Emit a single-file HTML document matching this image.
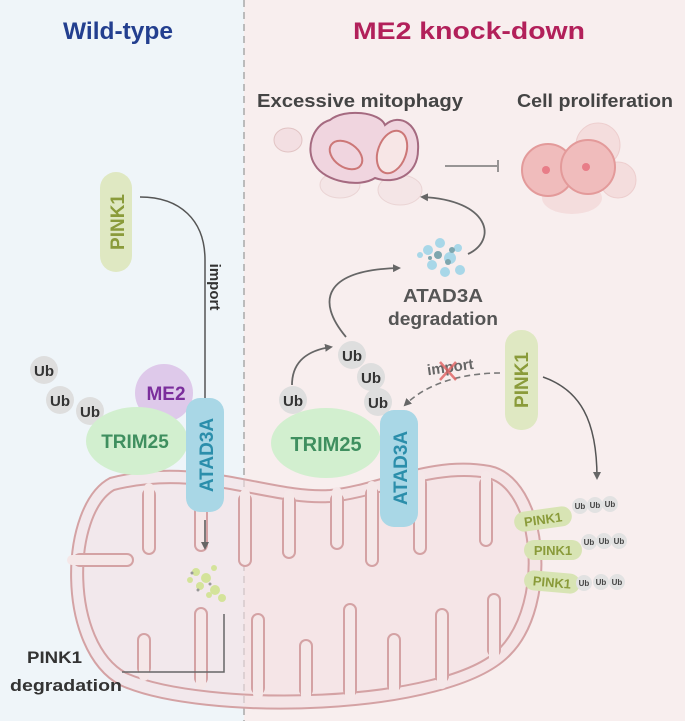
<!DOCTYPE html>
<html><head><meta charset="utf-8"><style>
html,body{margin:0;padding:0;width:685px;height:721px;overflow:hidden;background:#fff}
svg{display:block;font-family:"Liberation Sans",Arial,sans-serif}
</style></head><body>
<svg width="685" height="721" viewBox="0 0 685 721" xmlns="http://www.w3.org/2000/svg">
<defs>
<marker id="ah" markerWidth="8" markerHeight="8" refX="6" refY="4" orient="auto" markerUnits="userSpaceOnUse"><path d="M0,0 L8,4 L0,8 Z" fill="#666"/></marker>
</defs>
<rect x="0" y="0" width="244" height="721" fill="#eff5f9"/>
<rect x="244" y="0" width="441" height="721" fill="#f8eeee"/>
<line x1="244" y1="0" x2="244" y2="721" stroke="#a9a9a9" stroke-width="1.5" stroke-dasharray="7,5"/>
<text x="63" y="39" font-size="24" font-weight="bold" fill="#233f8f" textLength="110" lengthAdjust="spacingAndGlyphs">Wild-type</text>
<text x="353" y="39" font-size="24" font-weight="bold" fill="#b2205a" textLength="232" lengthAdjust="spacingAndGlyphs">ME2 knock-down</text>

<!-- top right -->
<text x="257" y="107" font-size="18" font-weight="bold" fill="#444" textLength="206" lengthAdjust="spacingAndGlyphs">Excessive mitophagy</text>
<text x="517" y="107" font-size="18" font-weight="bold" fill="#444" textLength="156" lengthAdjust="spacingAndGlyphs">Cell proliferation</text>
<g opacity="0.5"><ellipse cx="288" cy="140" rx="14" ry="12" fill="#efd2d8" stroke="#c99" /><ellipse cx="340" cy="185" rx="20" ry="13" fill="#f2dde0" stroke="#dbb"/><ellipse cx="400" cy="190" rx="22" ry="15" fill="#f2dde0" stroke="#dbb"/></g>
<path d="M330,120 C345,108 380,112 385,125 C400,112 420,125 418,150 C418,175 395,185 375,178 C360,188 325,182 315,165 C305,150 312,125 330,120 Z" fill="#f0d5df" stroke="#a56a80" stroke-width="2"/>
<ellipse cx="346" cy="155" rx="18" ry="12" fill="none" stroke="#c77" stroke-width="2" transform="rotate(35 346 155)"/>
<ellipse cx="392" cy="152" rx="14" ry="22" fill="#f7e6e6" stroke="#c77" stroke-width="2" transform="rotate(20 392 152)"/>
<line x1="445" y1="166" x2="497" y2="166" stroke="#777" stroke-width="1.5"/><line x1="498" y1="160" x2="498" y2="172" stroke="#777" stroke-width="1.5"/>
<g opacity="0.45"><circle cx="598" cy="145" r="22" fill="#f0c9c9" stroke="#e0a8a8"/><circle cx="618" cy="180" r="18" fill="#f0c9c9" stroke="#e0a8a8"/><ellipse cx="572" cy="198" rx="30" ry="16" fill="#f0c9c9"/></g>
<circle cx="548" cy="170" r="26" fill="#f0bcbc" stroke="#e39a9a" stroke-width="2"/>
<circle cx="588" cy="167" r="27" fill="#f0bcbc" stroke="#e39a9a" stroke-width="2"/>
<circle cx="546" cy="170" r="4" fill="#e87d88"/><circle cx="586" cy="167" r="4" fill="#e87d88"/>

<!-- ATAD3A degradation -->
<g fill="#a8d7e8"><circle cx="428" cy="250" r="5"/><circle cx="440" cy="243" r="5"/><circle cx="450" cy="258" r="6"/><circle cx="432" cy="265" r="5"/><circle cx="445" cy="272" r="5"/><circle cx="420" cy="255" r="3"/><circle cx="458" cy="248" r="4"/><circle cx="460" cy="270" r="5"/></g>
<g fill="#7ea6ae"><circle cx="438" cy="255" r="4"/><circle cx="448" cy="262" r="3"/><circle cx="430" cy="258" r="2"/><circle cx="452" cy="250" r="3"/></g>
<text x="443" y="302" text-anchor="middle" font-size="18" font-weight="bold" fill="#555" textLength="80" lengthAdjust="spacingAndGlyphs">ATAD3A</text>
<text x="443" y="325" text-anchor="middle" font-size="18" font-weight="bold" fill="#555" textLength="110" lengthAdjust="spacingAndGlyphs">degradation</text>
<path d="M468,254 C498,240 490,200 422,197" fill="none" stroke="#666" stroke-width="1.8" marker-end="url(#ah)"/>
<path d="M346,337 C315,300 325,270 399,268" fill="none" stroke="#666" stroke-width="1.8" marker-end="url(#ah)"/>
<path d="M292,385 C292,360 310,350 331,347" fill="none" stroke="#666" stroke-width="1.8" marker-end="url(#ah)"/>

<!-- Mitochondrion -->
<path d="M110,478 C58,505 55,650 120,685 C200,722 450,718 510,655 C560,605 548,478 490,466 C430,455 380,485 330,490 C270,494 200,455 110,478 Z" fill="#f3e0e2" fill-opacity="0.6" stroke="#d4a2a4" stroke-width="2"/>
<path d="M114,490 C72,515 70,642 126,673 C205,708 445,704 500,648 C545,600 534,490 488,478 C432,468 382,497 330,502 C268,506 200,468 114,490 Z" fill="none" stroke="#d4a2a4" stroke-width="2"/>
<g stroke-linecap="round">
<g stroke="#d4a2a4" stroke-width="14">
<path d="M149,495 V548"/><path d="M201,500 V545"/><path d="M245,500 V560"/><path d="M289,502 V552"/><path d="M337,500 V543"/><path d="M372,494 V560"/><path d="M420,484 V548"/><path d="M486,484 V540"/>
<path d="M144,668 V640"/><path d="M201,678 V614"/><path d="M258,688 V620"/><path d="M306,690 V646"/><path d="M350,690 V610"/><path d="M394,685 V640"/><path d="M442,676 V615"/><path d="M494,650 V600"/><path d="M80,560 H127"/>
</g>
<g stroke="#f5e7e8" stroke-width="10">
<path d="M149,488 V548"/><path d="M201,490 V545"/><path d="M245,494 V560"/><path d="M289,495 V552"/><path d="M337,492 V543"/><path d="M372,486 V560"/><path d="M420,476 V548"/><path d="M486,476 V540"/>
<path d="M144,676 V640"/><path d="M201,684 V614"/><path d="M258,694 V620"/><path d="M306,696 V646"/><path d="M350,696 V610"/><path d="M394,692 V640"/><path d="M442,684 V615"/><path d="M494,658 V600"/><path d="M72,560 H127"/>
</g></g>

<!-- Left side -->
<rect x="100" y="172" width="32" height="100" rx="16" fill="#dfe8c2"/>
<text transform="translate(124 222) rotate(-90)" text-anchor="middle" font-size="19" font-weight="bold" fill="#8a9b3a">PINK1</text>
<path d="M140,197 C180,197 205,220 205,260 L205,400" fill="none" stroke="#555" stroke-width="1.5"/>
<text transform="translate(210 287) rotate(90)" text-anchor="middle" font-size="15" font-weight="bold" fill="#333">import</text>
<circle cx="44" cy="370" r="14" fill="#dedede"/><text x="44" y="376" text-anchor="middle" font-size="15" font-weight="bold" fill="#333">Ub</text>
<circle cx="60" cy="400" r="14" fill="#dedede"/><text x="60" y="406" text-anchor="middle" font-size="15" font-weight="bold" fill="#333">Ub</text>
<circle cx="90" cy="411" r="14" fill="#dedede"/><text x="90" y="417" text-anchor="middle" font-size="15" font-weight="bold" fill="#333">Ub</text>
<circle cx="164" cy="393" r="29" fill="#dec9ea"/><text x="166" y="400" text-anchor="middle" font-size="19" font-weight="bold" fill="#7b2e9c">ME2</text>
<ellipse cx="137" cy="441" rx="51" ry="34" fill="#d2efcf"/><text x="135" y="448" text-anchor="middle" font-size="19" font-weight="bold" fill="#3f8f5f">TRIM25</text>
<rect x="186" y="398" width="38" height="114" rx="14" fill="#a9d7e6"/>
<text transform="translate(213 455) rotate(-90)" text-anchor="middle" font-size="19" font-weight="bold" fill="#2b8eab">ATAD3A</text>
<line x1="205" y1="520" x2="205" y2="548" stroke="#555" stroke-width="1.5" marker-end="url(#ah)"/>
<g fill="#d4e39a"><circle cx="196" cy="572" r="4"/><circle cx="206" cy="578" r="5"/><circle cx="214" cy="568" r="3"/><circle cx="200" cy="586" r="4"/><circle cx="215" cy="590" r="5"/><circle cx="222" cy="598" r="4"/><circle cx="190" cy="580" r="3"/><circle cx="209" cy="595" r="3"/></g>
<g fill="#999"><circle cx="192" cy="573" r="1.5"/><circle cx="198" cy="590" r="1.5"/><circle cx="210" cy="584" r="1.5"/></g>
<path d="M224,614 V672 H122" fill="none" stroke="#666" stroke-width="1.5"/>
<text x="27" y="663" font-size="17" font-weight="bold" fill="#333" textLength="55" lengthAdjust="spacingAndGlyphs">PINK1</text>
<text x="10" y="691" font-size="17" font-weight="bold" fill="#333" textLength="112" lengthAdjust="spacingAndGlyphs">degradation</text>

<!-- Right side -->
<circle cx="293" cy="400" r="14" fill="#dedede"/><text x="293" y="406" text-anchor="middle" font-size="15" font-weight="bold" fill="#333">Ub</text>
<circle cx="352" cy="355" r="14" fill="#dedede"/><text x="352" y="361" text-anchor="middle" font-size="15" font-weight="bold" fill="#333">Ub</text>
<circle cx="371" cy="377" r="14" fill="#dedede"/><text x="371" y="383" text-anchor="middle" font-size="15" font-weight="bold" fill="#333">Ub</text>
<circle cx="378" cy="402" r="14" fill="#dedede"/><text x="378" y="408" text-anchor="middle" font-size="15" font-weight="bold" fill="#333">Ub</text>
<ellipse cx="326" cy="443" rx="55" ry="35" fill="#d2efcf"/><text x="326" y="451" text-anchor="middle" font-size="20" font-weight="bold" fill="#3f8f5f">TRIM25</text>
<rect x="380" y="410" width="38" height="117" rx="14" fill="#a9d7e6"/>
<text transform="translate(407 468) rotate(-90)" text-anchor="middle" font-size="19" font-weight="bold" fill="#2b8eab">ATAD3A</text>
<path d="M500,373 C470,373 430,380 405,405" fill="none" stroke="#777" stroke-width="1.6" stroke-dasharray="6,4" marker-end="url(#ah)"/>
<text transform="translate(451 372) rotate(-8)" text-anchor="middle" font-size="15" font-weight="bold" fill="#666">import</text>
<path d="M440,362 L456,380 M456,362 L440,380" stroke="#e06060" stroke-width="2.5" opacity="0.8"/>
<rect x="505" y="330" width="33" height="100" rx="16" fill="#dfe8c2"/>
<text transform="translate(528 380) rotate(-90)" text-anchor="middle" font-size="19" font-weight="bold" fill="#8a9b3a">PINK1</text>
<path d="M543,377 C580,390 597,420 597,478" fill="none" stroke="#555" stroke-width="1.5" marker-end="url(#ah)"/>
<g font-size="13" font-weight="bold" fill="#8a9b3a">
<rect x="514" y="509" width="58" height="20" rx="10" fill="#d8e4b4" transform="rotate(-8 543 519)"/><text x="543" y="524" text-anchor="middle" transform="rotate(-8 543 519)">PINK1</text>
<rect x="524" y="540" width="58" height="20" rx="10" fill="#d8e4b4"/><text x="553" y="555" text-anchor="middle">PINK1</text>
<rect x="524" y="572" width="56" height="20" rx="10" fill="#d8e4b4" transform="rotate(5 552 582)"/><text x="552" y="587" text-anchor="middle" transform="rotate(5 552 582)">PINK1</text>
</g>
<g fill="#e2e2e2"><circle cx="580" cy="506" r="8"/><circle cx="595" cy="505" r="8"/><circle cx="610" cy="504" r="8"/><circle cx="589" cy="542" r="8"/><circle cx="604" cy="541" r="8"/><circle cx="619" cy="541" r="8"/><circle cx="584" cy="583" r="8"/><circle cx="601" cy="582" r="8"/><circle cx="617" cy="582" r="8"/></g>
<g font-size="8" font-weight="bold" fill="#444" text-anchor="middle"><text x="580" y="509">Ub</text><text x="595" y="508">Ub</text><text x="610" y="507">Ub</text><text x="589" y="545">Ub</text><text x="604" y="544">Ub</text><text x="619" y="544">Ub</text><text x="584" y="586">Ub</text><text x="601" y="585">Ub</text><text x="617" y="585">Ub</text></g>
</svg>
</body></html>
